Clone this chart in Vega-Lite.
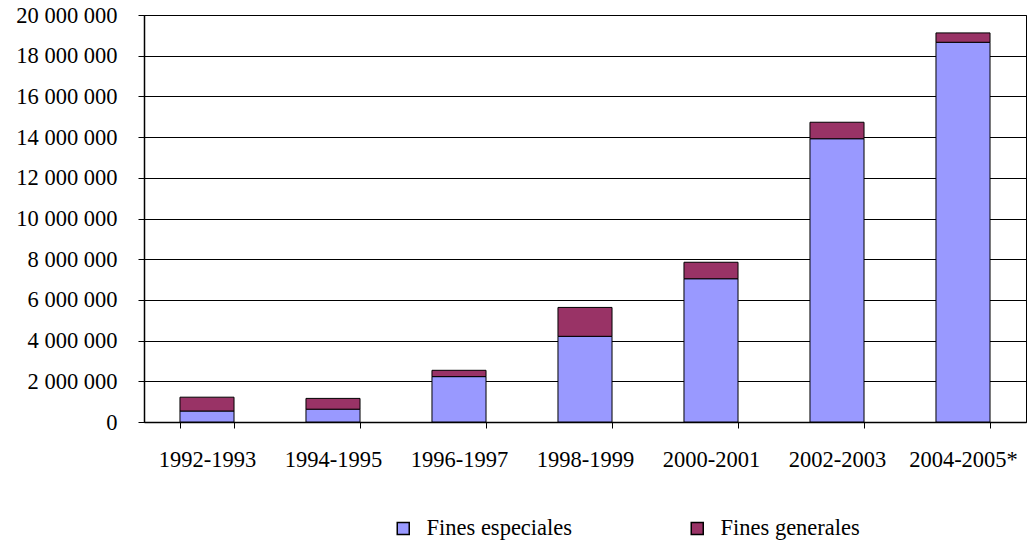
{
  "$schema": "https://vega.github.io/schema/vega-lite/v6.json",
  "autosize": {"type": "none"},
  "padding": {"left": 144, "top": 15, "right": 2, "bottom": 118},
  "width": 882,
  "height": 407,
  "config": {
    "font": "Liberation Serif",
    "locale": {"number": {"decimal": ",", "thousands": " ", "grouping": [3], "currency": ["", ""]}},
    "view": {"stroke": "black", "strokeWidth": 1},
    "axis": {"labelFont": "Liberation Serif", "labelColor": "black", "labelFontSize": 22.5, "domainColor": "black", "tickColor": "black", "gridColor": "black", "gridOpacity": 1, "tickSize": 6, "title": null}
  },
  "data": {
    "values": [
      {"periodo": "1992-1993", "tipo": "Fines especiales", "valor": 540000},
      {"periodo": "1992-1993", "tipo": "Fines generales", "valor": 680000},
      {"periodo": "1994-1995", "tipo": "Fines especiales", "valor": 630000},
      {"periodo": "1994-1995", "tipo": "Fines generales", "valor": 530000},
      {"periodo": "1996-1997", "tipo": "Fines especiales", "valor": 2230000},
      {"periodo": "1996-1997", "tipo": "Fines generales", "valor": 310000},
      {"periodo": "1998-1999", "tipo": "Fines especiales", "valor": 4210000},
      {"periodo": "1998-1999", "tipo": "Fines generales", "valor": 1420000},
      {"periodo": "2000-2001", "tipo": "Fines especiales", "valor": 7040000},
      {"periodo": "2000-2001", "tipo": "Fines generales", "valor": 810000},
      {"periodo": "2002-2003", "tipo": "Fines especiales", "valor": 13920000},
      {"periodo": "2002-2003", "tipo": "Fines generales", "valor": 810000},
      {"periodo": "2004-2005*", "tipo": "Fines especiales", "valor": 18660000},
      {"periodo": "2004-2005*", "tipo": "Fines generales", "valor": 460000}
    ]
  },
  "mark": {"type": "bar", "stroke": "black", "strokeWidth": 1},
  "encoding": {
    "x": {
      "field": "periodo", "type": "nominal", "sort": null,
      "scale": {"paddingInner": 0.571, "paddingOuter": 0.2855},
      "axis": {"labelAngle": 0, "tickBand": "extent", "grid": false, "labelPadding": 20, "domainWidth": 1.5}
    },
    "y": {
      "field": "valor", "type": "quantitative", "stack": "zero",
      "scale": {"domain": [0, 20000000], "nice": false},
      "axis": {"values": [0, 2000000, 4000000, 6000000, 8000000, 10000000, 12000000, 14000000, 16000000, 18000000, 20000000], "format": ",d", "grid": true, "labelPadding": 21, "domainWidth": 1.5}
    },
    "color": {
      "field": "tipo", "type": "nominal",
      "scale": {"domain": ["Fines especiales", "Fines generales"], "range": ["#9999FF", "#993366"]},
      "legend": {"title": null, "orient": "none", "direction": "horizontal", "legendX": 248, "legendY": 502, "symbolType": "square", "symbolSize": 144, "symbolStrokeColor": "black", "symbolStrokeWidth": 1.5, "labelFont": "Liberation Serif", "labelFontSize": 22.5, "labelColor": "black", "labelOffset": 12, "columnPadding": 113}
    },
    "order": {"field": "tipo", "sort": "ascending"}
  }
}
